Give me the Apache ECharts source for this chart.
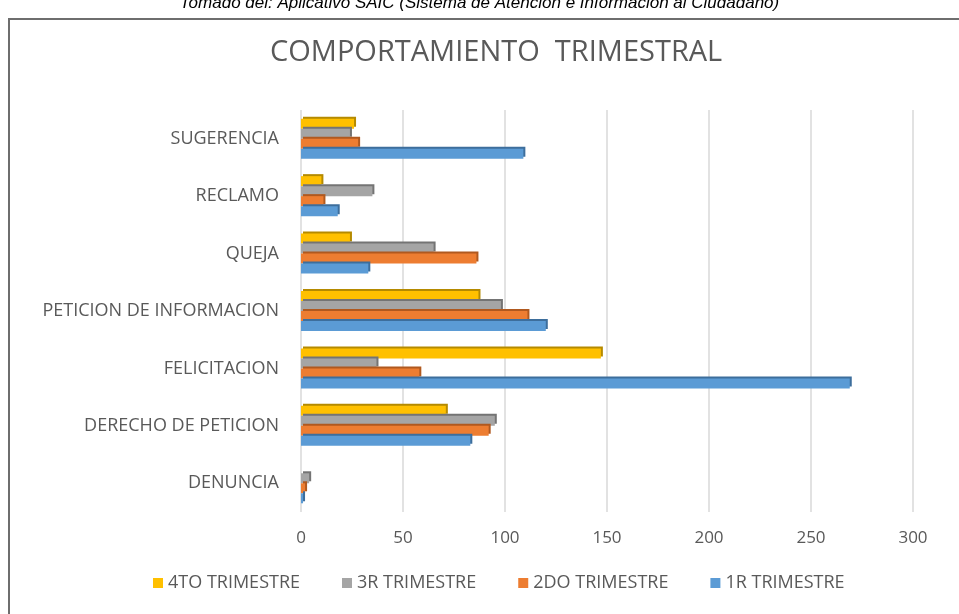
<!DOCTYPE html>
<html>
<head>
<meta charset="utf-8">
<script src="https://cdn.jsdelivr.net/npm/echarts@6/dist/echarts.min.js"></script>
<style>
  html, body { margin: 0; padding: 0; background: #fff; }
  #chart { width: 959px; height: 614px; }
</style>
</head>
<body>
<div id="chart"></div>
<script>
// categorias (de abajo hacia arriba)
const categorias = ['DENUNCIA', 'DERECHO DE PETICION', 'FELICITACION', 'PETICION DE INFORMACION', 'QUEJA', 'RECLAMO', 'SUGERENCIA']
const trim1 = [1, 83, 269, 120, 33, 18, 109]
const trim2 = [2, 92, 58, 111, 86, 11, 28]
const trim3 = [4, 95, 37, 98, 65, 35, 24]
const trim4 = [0, 71, 147, 87, 24, 10, 26]
const xTicks = [0, 50, 100, 150, 200, 250, 300]

const textColor = '#595959'
const font = '"Open Sans", "DejaVu Sans", sans-serif'

const chart = echarts.init(document.getElementById('chart'))

function serie(name, data, color, dark) {
  return {
    name: name, type: 'bar', data: data, barWidth: 10, barGap: '0%',
    itemStyle: { color: color, shadowColor: dark, shadowOffsetX: 2, shadowOffsetY: -2, shadowBlur: 0 }
  }
}

chart.setOption({
  animation: false,
  backgroundColor: '#fff',
  graphic: [
    { type: 'text', left: 'center', top: -5,
      style: { text: 'Tomado del: Aplicativo SAIC (Sistema de Atención e Información al Ciudadano)',
        font: 'italic 17px "Liberation Sans", Arial, sans-serif', fill: '#000' } },
    { type: 'rect', shape: { x: 9, y: 19, width: 1000, height: 700 },
      style: { fill: 'none', stroke: '#6e6e6e', lineWidth: 2 }, z: -1 }
  ],
  title: {
    text: 'COMPORTAMIENTO  TRIMESTRAL', left: 265, top: 33,
    textStyle: { color: textColor, fontSize: 29, fontWeight: 'normal', fontFamily: '"Liberation Sans Narrow", "Open Sans", sans-serif' }
  },
  legend: {
    data: ['4TO TRIMESTRE', '3R TRIMESTRE', '2DO TRIMESTRE', '1R TRIMESTRE'],
    bottom: 17, left: 148, itemWidth: 10, itemHeight: 10, itemGap: 42, icon: 'rect',
    textStyle: { color: textColor, fontSize: 18, fontFamily: font }
  },
  grid: { left: 301, right: 46, top: 110, bottom: 102 },
  xAxis: {
    type: 'value', min: xTicks[0], max: xTicks[xTicks.length - 1], interval: 50,
    axisLine: { show: false }, axisTick: { show: false },
    axisLabel: { color: textColor, fontSize: 17, fontFamily: font, margin: 18 },
    splitLine: { lineStyle: { color: '#d9d9d9', width: 1.5 } }
  },
  yAxis: {
    type: 'category', data: categorias,
    axisLine: { show: false }, axisTick: { show: false },
    axisLabel: { color: textColor, fontSize: 18, fontFamily: font, margin: 22 }
  },
  series: [
    serie('4TO TRIMESTRE', trim4, '#FFC000', '#b58a00'),
    serie('3R TRIMESTRE', trim3, '#A5A5A5', '#747474'),
    serie('2DO TRIMESTRE', trim2, '#ED7D31', '#b0591f'),
    serie('1R TRIMESTRE', trim1, '#5B9BD5', '#3d6e9c')
  ]
})
</script>
</body>
</html>
